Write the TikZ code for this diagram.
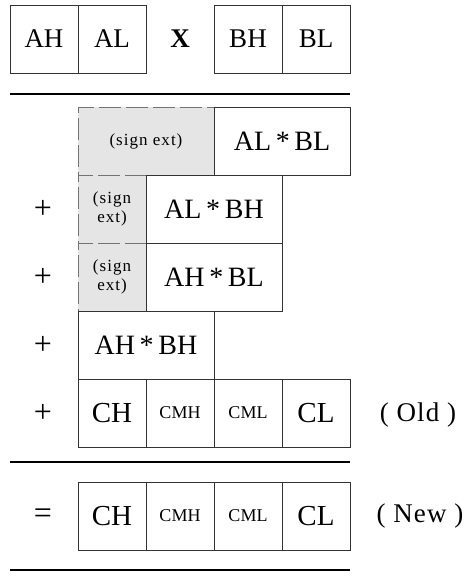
\documentclass[tikz,border=0pt]{standalone}
\usepackage{fontspec}
\setmainfont{Liberation Serif}
\begin{document}
\begin{tikzpicture}[x=1pt,y=-1pt,
  cell/.style={draw=black!80, line width=0.9pt, fill=white, inner sep=0pt,
    minimum height=68pt, font=\fontsize{27}{29}\selectfont},
  unit/.style={cell, minimum width=68pt},
  wide/.style={cell, minimum width=136pt, font=\fontsize{28}{30}\selectfont},
  cbig/.style={unit, font=\fontsize{29}{31}\selectfont},
  csmall/.style={unit, font=\fontsize{18}{20}\selectfont},
  signbox/.style={draw=black!55, dash pattern=on 22pt off 5pt, line width=0.9pt,
    fill=black!10, inner sep=0pt, minimum height=68pt, align=center,
    font=\fontsize{17}{19}\selectfont\addfontfeature{LetterSpace=6}},
  oplabel/.style={font=\fontsize{32}{34}\selectfont},
  sidelabel/.style={font=\fontsize{27}{29}\selectfont\addfontfeature{LetterSpace=4}},
  rule/.style={line width=1.6pt}
]
\useasboundingbox (0,0) rectangle (468,581);

% operands
\node[unit] (ah) at (44,39) {AH};
\node[unit] (al) at (112,39) {AL};
\node[oplabel, font=\fontsize{27}{29}\selectfont] (times) at (180,39) {\textbf{X}};
\node[unit] (bh) at (248,39) {BH};
\node[unit] (bl) at (316,39) {BL};

\coordinate (r1a) at (10,94);
\coordinate (r1b) at (350,94);
\draw[rule] (r1a) -- (r1b);

% partial products
\node[signbox, minimum width=136pt] (s1) at (146,141) {(sign ext)};
\node[wide] (albl) at (282,141) {AL\,*\,BL};

\node[signbox, minimum width=68pt] (s2) at (112,209) {(sign\\ext)};
\node[wide] (albh) at (214,209) {AL\,*\,BH};
\node[oplabel] (p2) at (43,209) {+};

\node[signbox, minimum width=68pt] (s3) at (112,277) {(sign\\ext)};
\node[wide] (ahbl) at (214,277) {AH\,*\,BL};
\node[oplabel] (p3) at (43,277) {+};

\node[wide] (ahbh) at (146,345) {AH\,*\,BH};
\node[oplabel] (p4) at (43,345) {+};

% old accumulator
\node[cbig] (ch) at (112,413) {CH};
\node[csmall] (cmh) at (180,413) {CMH};
\node[csmall] (cml) at (248,413) {CML};
\node[cbig] (cl) at (316,413) {CL};
\node[oplabel] (p5) at (43,413) {+};
\node[sidelabel] (old) at (418,415) {( Old )};

\coordinate (r2a) at (10,462);
\coordinate (r2b) at (350,462);
\draw[rule] (r2a) -- (r2b);

% new accumulator
\node[cbig] (nch) at (112,516) {CH};
\node[csmall] (ncmh) at (180,516) {CMH};
\node[csmall] (ncml) at (248,516) {CML};
\node[cbig] (ncl) at (316,516) {CL};
\node[oplabel] (eq) at (43,516) {=};
\node[sidelabel] (new) at (420,516) {( New )};

\coordinate (r3a) at (10,570);
\coordinate (r3b) at (350,570);
\draw[rule] (r3a) -- (r3b);
\end{tikzpicture}
\end{document}
